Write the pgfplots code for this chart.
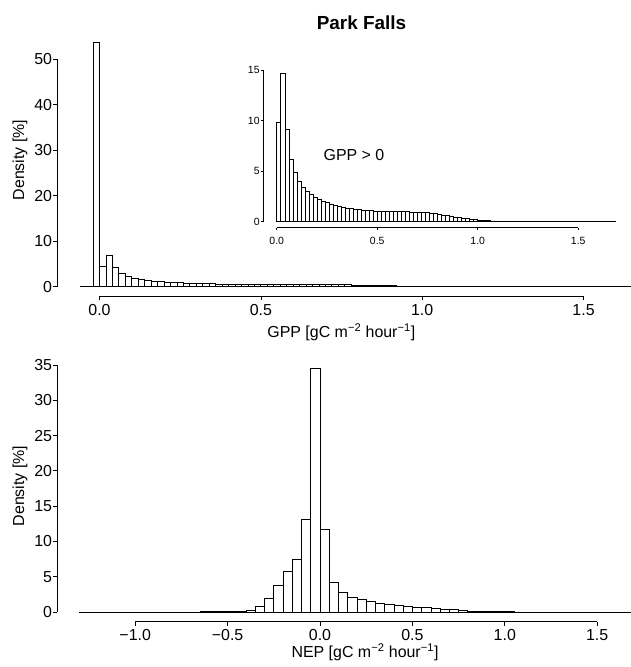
\documentclass[border=0pt]{standalone}
\usepackage{fontspec}
\setmainfont{Liberation Sans}
\usepackage{pgfplots}
\pgfplotsset{compat=1.18}
\usepackage{pgfplotstable}

\pgfplotstableread{
x y
-0.06 0
-0.04 0
-0.02 53.75
0.00 4.53
0.02 6.80
0.04 4.21
0.06 2.87
0.08 2.27
0.10 1.85
0.12 1.60
0.14 1.41
0.16 1.27
0.18 1.13
0.20 1.02
0.22 0.93
0.24 0.87
0.26 0.81
0.28 0.75
0.30 0.69
0.32 0.66
0.34 0.63
0.36 0.61
0.38 0.58
0.40 0.56
0.42 0.54
0.44 0.52
0.46 0.51
0.48 0.49
0.50 0.48
0.52 0.47
0.54 0.49
0.56 0.46
0.58 0.49
0.60 0.50
0.62 0.47
0.64 0.46
0.66 0.45
0.68 0.44
0.70 0.43
0.72 0.43
0.74 0.42
0.76 0.41
0.78 0.38
0.80 0.34
0.82 0.31
0.84 0.28
0.86 0.25
0.88 0.22
0.90 0.19
0.92 0.17
0.94 0.15
0.96 0.12
0.98 0.10
1.00 0.08
1.02 0.07
1.04 0.06
1.06 0.04
1.08 0.03
1.10 0.02
1.12 0.02
1.14 0.01
1.16 0.01
1.18 0.005
1.20 0.005
1.22 0.005
1.24 0.005
1.26 0.005
1.28 0.005
1.30 0.005
1.32 0.005
1.34 0.005
1.36 0.005
1.38 0.005
1.40 0.005
1.42 0.005
1.44 0.005
1.46 0.005
1.48 0.005
1.50 0.005
1.52 0.005
1.54 0.005
1.56 0.005
1.58 0.005
1.60 0.005
1.62 0.005
1.64 0
}\gpptable

\pgfplotstableread{
x y
0.00 9.8
0.02 14.7
0.04 9.1
0.06 6.2
0.08 4.9
0.10 4.0
0.12 3.45
0.14 3.05
0.16 2.75
0.18 2.45
0.20 2.2
0.22 2.0
0.24 1.88
0.26 1.75
0.28 1.62
0.30 1.5
0.32 1.42
0.34 1.36
0.36 1.32
0.38 1.26
0.40 1.2
0.42 1.16
0.44 1.12
0.46 1.1
0.48 1.06
0.50 1.04
0.52 1.02
0.54 1.06
0.56 1.0
0.58 1.05
0.60 1.08
0.62 1.02
0.64 1.0
0.66 0.98
0.68 0.96
0.70 0.94
0.72 0.92
0.74 0.9
0.76 0.88
0.78 0.82
0.80 0.74
0.82 0.66
0.84 0.6
0.86 0.54
0.88 0.48
0.90 0.42
0.92 0.37
0.94 0.32
0.96 0.27
0.98 0.22
1.00 0.18
1.02 0.15
1.04 0.12
1.06 0.09
1.08 0.07
1.10 0.05
1.12 0.04
1.14 0.03
1.16 0.02
1.18 0.01
1.20 0.01
1.22 0.01
1.24 0.01
1.26 0.01
1.28 0.01
1.30 0.01
1.32 0.01
1.34 0.01
1.36 0.01
1.38 0.01
1.40 0.01
1.42 0.01
1.44 0.01
1.46 0.01
1.48 0.01
1.50 0.01
1.52 0.01
1.54 0.01
1.56 0.01
1.58 0.01
1.60 0.01
1.62 0.01
1.64 0.01
1.66 0.01
1.68 0
}\inettable

\pgfplotstableread{
x y
-1.30 0.005
-1.25 0.005
-1.20 0.005
-1.15 0.005
-1.10 0.005
-1.05 0.005
-1.00 0.005
-0.95 0.005
-0.90 0.005
-0.85 0.005
-0.80 0.01
-0.75 0.01
-0.70 0.01
-0.65 0.015
-0.60 0.02
-0.55 0.03
-0.50 0.04
-0.45 0.08
-0.40 0.22
-0.35 0.85
-0.30 1.95
-0.25 3.8
-0.20 5.75
-0.15 7.45
-0.10 13.1
-0.05 34.5
0.00 11.75
0.05 4.15
0.10 2.8
0.15 2.1
0.20 1.75
0.25 1.46
0.30 1.27
0.35 1.13
0.40 1.0
0.45 0.85
0.50 0.7
0.55 0.6
0.60 0.5
0.65 0.4
0.70 0.3
0.75 0.22
0.80 0.15
0.85 0.08
0.90 0.05
0.95 0.03
1.00 0.02
1.05 0.01
1.10 0.01
1.15 0.01
1.20 0.01
1.25 0.01
1.30 0.01
1.35 0.01
1.40 0.01
1.45 0.01
1.50 0.01
1.55 0.01
1.60 0.01
1.65 0.005
1.68 0
}\neptable

\pgfplotsset{
  rstyle/.style={
    scale only axis, clip=false,
    axis x line*=bottom, axis y line*=left,
    axis line style={draw=none,-},
    tick align=outside, major tick length=4bp,
    tick style={black, line width=0.7bp},
    tick label style={font=\fontsize{16}{16}\selectfont, black},
    xticklabel style={inner sep=1bp, yshift=-2.5bp},
    yticklabel style={inner sep=1bp},
    minor tick num=0,
  },
}

\begin{document}
\begin{tikzpicture}
\useasboundingbox (0bp,0bp) rectangle (631bp,667bp);

% ---------- top: GPP ----------
\begin{axis}[rstyle,
  anchor=south west, at={(57.3bp,370.5bp)},
  width=573.7bp, height=264bp,
  xmin=-0.1308, xmax=1.647, ymin=-2.15, ymax=55.9,
  xtick={0,0.5,1,1.5}, xticklabels={0.0,0.5,1.0,1.5},
  ytick={0,10,20,30,40,50}, yticklabels={0,10,20,30,40,50},
]
\addplot[black, line width=0.9bp, forget plot] coordinates {(-0.06,0) (1.647,0)};
\addplot[ybar interval, fill=white, draw=black, line width=0.75bp] table[x=x,y=y] {\gpptable};
\draw[line width=0.7bp] (axis cs:0,-2.15) -- (axis cs:1.5,-2.15);
\draw[line width=0.7bp] (axis cs:-0.1308,0) -- (axis cs:-0.1308,50);
\end{axis}

% ---------- inset: GPP > 0 ----------
\begin{axis}[rstyle,
  anchor=south west, at={(263.3bp,439.3bp)},
  width=364.6bp, height=161.3bp,
  xmin=-0.067, xmax=1.747, ymin=-0.59, ymax=15.36,
  major tick length=2.5bp,
  tick label style={font=\fontsize{10.5}{10.5}\selectfont},
  xticklabel style={inner sep=1bp, yshift=-3bp},
  xtick={0,0.5,1,1.5}, xticklabels={0.0,0.5,1.0,1.5},
  ytick={0,5,10,15}, yticklabels={0,5,10,15},
]
\addplot[black, line width=0.8bp, forget plot] coordinates {(0,0) (1.69,0)};
\addplot[ybar interval, fill=white, draw=black, line width=0.6bp] table[x=x,y=y] {\inettable};
\draw[line width=0.6bp] (axis cs:0,-0.59) -- (axis cs:1.5,-0.59);
\draw[line width=0.6bp] (axis cs:-0.067,0) -- (axis cs:-0.067,15);
\end{axis}

% ---------- bottom: NEP ----------
\begin{axis}[rstyle,
  anchor=south west, at={(57.3bp,45.3bp)},
  width=573.7bp, height=262.9bp,
  xmin=-1.4215, xmax=1.6829, ymin=-1.38, ymax=35.88,
  xtick={-1,-0.5,0,0.5,1,1.5}, xticklabels={−1.0,−0.5,0.0,0.5,1.0,1.5},
  ytick={0,5,10,15,20,25,30,35}, yticklabels={0,5,10,15,20,25,30,35},
]
\addplot[black, line width=0.9bp, forget plot] coordinates {(-1.30,0) (1.6829,0)};
\addplot[ybar interval, fill=white, draw=black, line width=0.75bp] table[x=x,y=y] {\neptable};
\draw[line width=0.7bp] (axis cs:-1,-1.38) -- (axis cs:1.5,-1.38);
\draw[line width=0.7bp] (axis cs:-1.4215,0) -- (axis cs:-1.4215,35);
\end{axis}

% ---------- texts ----------
\node[font=\bfseries\fontsize{19}{19}\selectfont] at (361.5bp,644bp) {Park Falls};
\node[font=\fontsize{16}{16}\selectfont] at (354bp,512bp) {GPP > 0};
\node[font=\fontsize{16}{16}\selectfont] at (341.3bp,335bp) {GPP [gC m\textsuperscript{−2} hour\textsuperscript{−1}]};
\node[font=\fontsize{16}{16}\selectfont] at (365bp,15bp) {NEP [gC m\textsuperscript{−2} hour\textsuperscript{−1}]};
\node[font=\fontsize{16}{16}\selectfont, rotate=90] at (20bp,507bp) {Density [\%]};
\node[font=\fontsize{16}{16}\selectfont, rotate=90] at (20bp,181bp) {Density [\%]};
\end{tikzpicture}
\end{document}
